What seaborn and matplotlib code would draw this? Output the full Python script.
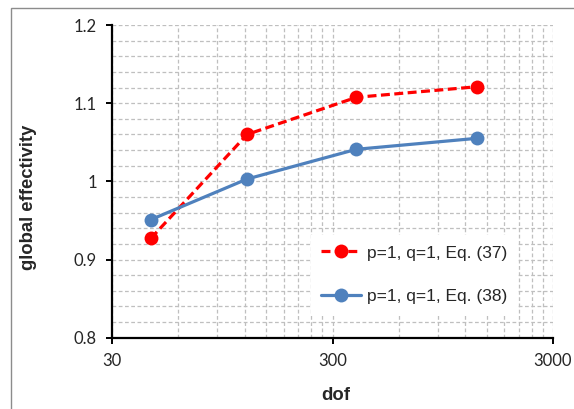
import matplotlib
matplotlib.use('Agg')
import matplotlib.pyplot as plt
import seaborn as sns
import pandas as pd
from matplotlib.ticker import FixedLocator, FixedFormatter, NullFormatter
from matplotlib.patches import Rectangle
from matplotlib.lines import Line2D

# ---- data ----
dof = [45, 123, 385, 1350]
eq37 = [0.927, 1.060, 1.1075, 1.121]
eq38 = [0.951, 1.003, 1.041, 1.055]
series_labels = ["p=1, q=1, Eq. (37)", "p=1, q=1, Eq. (38)"]
x_ticks = [30, 300, 3000]
x_tick_labels = ["30", "300", "3000"]
y_ticks = [0.8, 0.9, 1.0, 1.1, 1.2]
y_tick_labels = ["0.8", "0.9", "1", "1.1", "1.2"]

colors = ['#FF0000', '#4F81BD']

sns.set_style('white')
plt.rcParams['font.family'] = ['Lato', 'DejaVu Sans']

W, H = 574, 409
fig = plt.figure(figsize=(W / 100, H / 100), dpi=100)
L, R, T, B = 112, 553, 25, 337.7
ax = fig.add_axes([L / W, 1 - B / H, (R - L) / W, (B - T) / H])

df = pd.DataFrame({
    'dof': dof + dof,
    'value': eq37 + eq38,
    'series': [series_labels[0]] * len(dof) + [series_labels[1]] * len(dof),
})

ax.set_xscale('log')
sns.lineplot(data=df, x='dof', y='value', hue='series', style='series',
             palette=colors, dashes=[(2.8, 1.4), ''], markers=['o', 'o'],
             markersize=10, linewidth=2.3, markeredgewidth=0, ax=ax,
             legend=False, zorder=3)

ax.set_xlim(x_ticks[0], x_ticks[-1])
ax.set_ylim(y_ticks[0], y_ticks[-1])

ax.xaxis.set_major_locator(FixedLocator(x_ticks))
ax.xaxis.set_major_formatter(FixedFormatter(x_tick_labels))
minor_x = [k * x_ticks[0] * 10 ** d for d in (0, 1) for k in range(2, 10)]
ax.xaxis.set_minor_locator(FixedLocator(minor_x))
ax.xaxis.set_minor_formatter(NullFormatter())

ax.yaxis.set_major_locator(FixedLocator(y_ticks))
ax.yaxis.set_major_formatter(FixedFormatter(y_tick_labels))
minor_y = [0.8 + 0.02 * i for i in range(1, 20) if i % 5 != 0]
ax.yaxis.set_minor_locator(FixedLocator(minor_y))

ax.grid(which='both', color='#BFBFBF', linestyle=(0, (3, 2)), linewidth=0.9)
ax.set_axisbelow(True)

for s in ['top', 'right']:
    ax.spines[s].set_visible(False)
for s in ['left', 'bottom']:
    ax.spines[s].set_color('black')
    ax.spines[s].set_linewidth(1.6)

ax.tick_params(which='major', direction='out', length=4, width=1.4, color='black',
               labelsize=12, pad=7, left=True, bottom=True)
ax.tick_params(which='minor', length=0)

ax.set_xlabel('dof', fontsize=13.3, fontweight='bold', family='Liberation Sans')
ax.set_ylabel('global effectivity', fontsize=13.3, fontweight='bold', family='Liberation Sans')
ax.xaxis.set_label_coords(0.508, -0.158)
ax.yaxis.set_label_coords(-0.17, 0.45)

handles = [
    Line2D([], [], color=colors[0], linestyle=(0, (2.8, 1.4)), linewidth=2.3,
           marker='o', markersize=10, markeredgewidth=0),
    Line2D([], [], color=colors[1], linestyle='-', linewidth=2.3,
           marker='o', markersize=10, markeredgewidth=0),
]
leg = ax.legend(handles, series_labels, loc='upper left',
                bbox_to_anchor=((311 - L) / (R - L), 1 - (235 - T) / (B - T)),
                prop={'family': 'Liberation Sans', 'size': 12.5},
                handlelength=2.3, handletextpad=0.3, labelspacing=1.65,
                frameon=True, facecolor='white', edgecolor='none', framealpha=1,
                fancybox=False, borderpad=0.6, borderaxespad=0)

fig.patches.append(Rectangle((11 / W, -1), 2, 1 + (1 - 8 / H), transform=fig.transFigure,
                             fill=False, edgecolor='#8C8C8C', linewidth=1))

fig.savefig('out.png', dpi=100)
